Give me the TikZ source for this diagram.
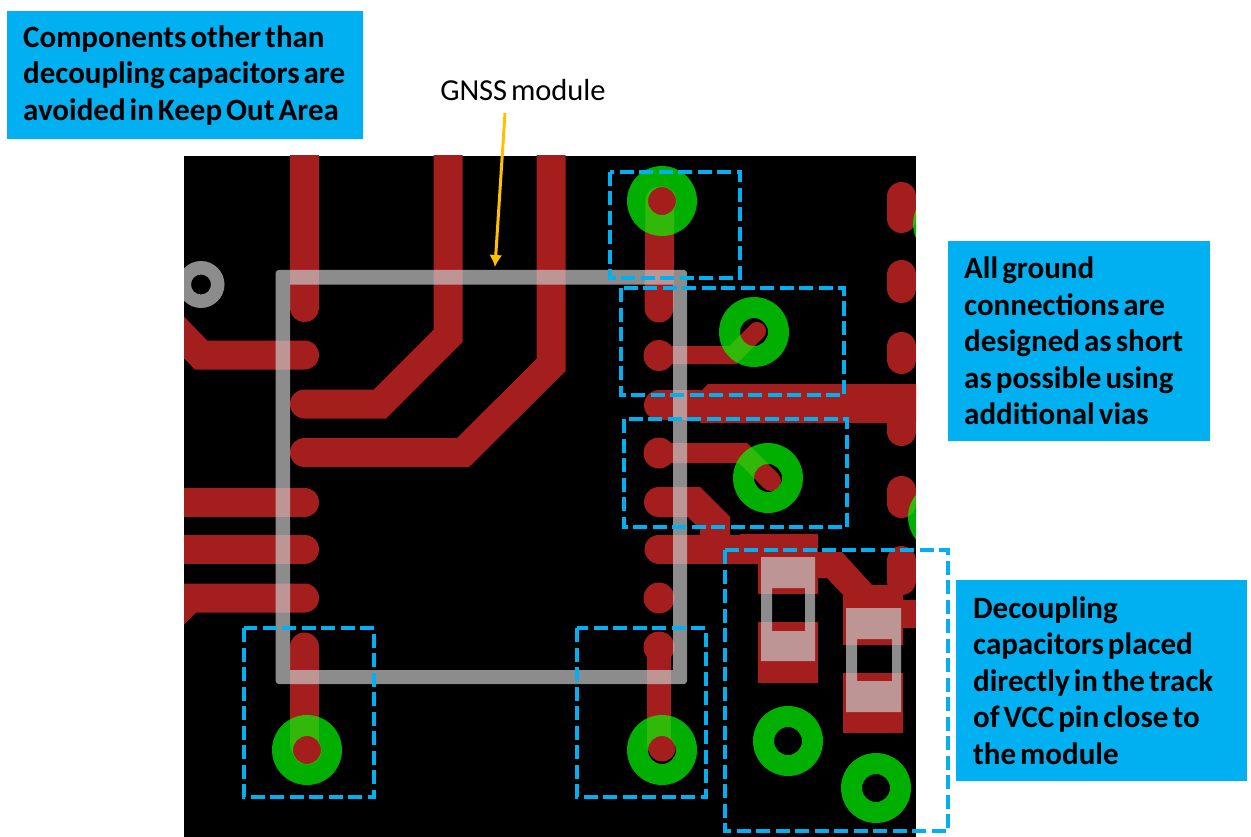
\documentclass[tikz,border=0pt]{standalone}
\usepackage{fontspec}
\setmainfont[WordSpace=0.55]{Carlito}
\usetikzlibrary{arrows.meta}
\definecolor{pcbred}{RGB}{165,30,30}
\definecolor{viagreen}{RGB}{0,250,0}
\definecolor{silkgray}{RGB}{200,200,200}
\definecolor{callblue}{RGB}{0,176,240}
\definecolor{arrowyellow}{RGB}{255,192,0}
\newcommand{\tightwords}{\spaceskip=0.13em\relax}
\tikzset{
  track/.style={draw=pcbred, line width=#1, line cap=round, line join=miter},
  track/.default=29pt,
  silk/.style={fill=silkgray, fill opacity=0.7, even odd rule},
  keepbox/.style={draw=callblue, line width=4pt, dash pattern=on 14pt off 5.5pt},
  callout/.style={fill=callblue, anchor=north west, align=left, inner ysep=0pt,
    font=\fontsize{31}{36.5}\selectfont\bfseries},
}

\begin{document}
\begin{tikzpicture}[x=1pt, y=-1pt, >=latex]
  \useasboundingbox (0,0) rectangle (1251,837);
  \def\viaR{35}
  \def\viaH{14}

  % Board
  \fill[black] (184,156) rectangle (916,837);

  \begin{scope}
    \clip (184,156) rectangle (916,837);

    % Tracks left side
    \draw[track] (304.5,150) -- (304.5,307.5);
    \draw[track] (170,323) -- (201,355) -- (304.5,355);
    \draw[track] (448,150) -- (448,336) -- (380,404) -- (304.5,404);
    \draw[track] (551,150) -- (551,365) -- (463,452.5) -- (304.5,452.5);
    \draw[track] (170,502) -- (304.5,502);
    \draw[track] (170,549) -- (304.5,549);
    \draw[track] (304.5,598) -- (190,598) -- (160,628);
    \draw[track] (304.5,647) -- (304.5,745);
    \fill[pcbred] (307,750) circle (14.5);

    % Tracks right side
    \draw[track] (660,201) -- (659,308);
    \fill[pcbred] (662,201) circle (14.5);
    \fill[pcbred] (659,355.5) circle (15.5);
    \draw[track=18pt] (659,355) -- (733,355) -- (757,331);
    \draw[track=30pt] (659,405) -- (720,405);
    \fill[pcbred] (916,384) -- (708,384) -- (700,392) -- (700,423) -- (916,423) -- cycle;
    \fill[pcbred] (659,453) circle (15.5);
    \draw[track=20pt] (659,453) -- (743,453) -- (771,481);
    \draw[track=30pt] (659,502) -- (694,502) -- (715,523) -- (715,549);
    \draw[track] (659,549) -- (760,549);
    \fill[pcbred] (659,598) circle (15.5);
    \fill[pcbred] (659,647) circle (15.5);
    \draw[track=24pt] (659,647) -- (659,745);
    \fill[pcbred] (662,748) circle (13.5);

    % Pads at the right edge
    \draw[track] (901.5,196.5) -- (901.5,218.5);
    \draw[track] (901.5,274.5) -- (901.5,288.5);
    \draw[track] (901.5,346.5) -- (901.5,359.5);
    \draw[track] (901.5,400) -- (901.5,431.5);
    \draw[track] (901.5,490.5) -- (901.5,503.5);
    \draw[track] (901.5,560.5) -- (901.5,580.5);

    % Capacitor pads
    \fill[pcbred] (740,534) rectangle (818,564);
    \fill[pcbred] (758,534) rectangle (818,594);
    \fill[pcbred] (758,622) rectangle (818,683);
    \fill[pcbred] (818,552) -- (842,552) -- (872,585) -- (903,585) -- (903,645)
      -- (843,645) -- (843,595) -- (827,578) -- (818,578) -- cycle;
    \fill[pcbred] (843,673) rectangle (903,733);
    \fill[pcbred] (900,600) rectangle (916,628);

    % Vias
    \foreach \vx/\vy in {662/201, 754/332, 768/478, 307/750, 662/750, 788/741, 876/788, 948/224, 943/517}{
      \fill[viagreen, fill opacity=0.7, even odd rule]
        (\vx,\vy) circle (\viaR) (\vx,\vy) circle (\viaH);
    }
    \fill[silk] (201,284.5) circle (23.5) (201,284.5) circle (10);
  \end{scope}

  % Silkscreen of the capacitors
  \fill[silk] (761,557) rectangle (815,661) (772,588) rectangle (805,631);
  \fill[silk] (846,608) rectangle (901,712) (857,639) rectangle (892,681);

  % Keep out area
  \fill[silk] [rounded corners=3pt] (275.7,270) rectangle (687,684)
    [sharp corners] (290,284.7) rectangle (673,670);

  % Dashed boxes
  \foreach \xa/\ya/\xb/\yb in {610/172/740/278, 621/288/844/395, 624/419/847/527,
    244/628/374/797, 577/628/706/797, 725/550/948/831}{
    \draw[keepbox] (\xa,\ya) rectangle (\xb,\yb);
  }

  % Texts
  \node[callout, inner xsep=16pt, text width=324pt, minimum height=128pt] (keepout) at (7,11)
    {\tightwords Components other than\\ decoupling capacitors are\\ avoided in Keep Out Area};
  \node[callout, inner xsep=16pt, text width=230pt, minimum height=200pt] (ground) at (948,241)
    {\tightwords All ground\\ connections are\\ designed as short\\ as possible using\\ additional vias};
  \node[callout, inner xsep=17pt, text width=257pt, minimum height=201pt] (decoupling) at (956,580)
    {\tightwords Decoupling\\ capacitors placed\\ directly in the track\\ of VCC pin close to\\ the module};

  % GNSS label with arrow
  \node[font=\fontsize{30.5}{34}\selectfont, inner sep=0pt] (gnss) at (523,90) {GNSS module};
  \coordinate (gnsstip) at (495,267);
  \draw[-{Latex[length=12pt,width=13pt]}, arrowyellow, line width=3pt]
    (505,113) -- (gnsstip);
\end{tikzpicture}
\end{document}
